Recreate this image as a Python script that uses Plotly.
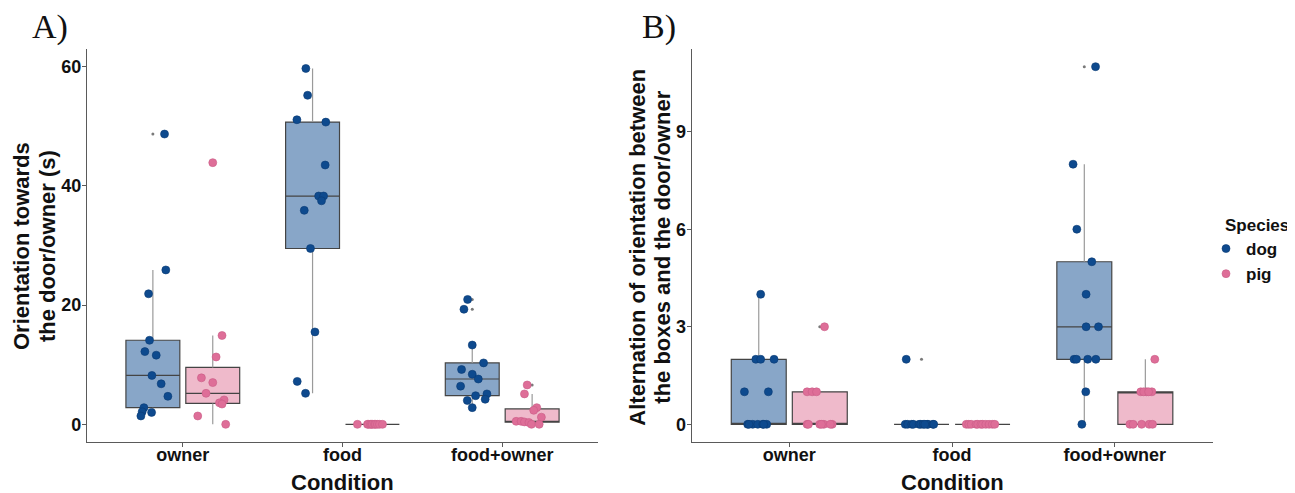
import numpy as np
import plotly.graph_objects as go

# The page body has an 8px default margin: the figure is laid out in
# screen pixels and converted to figure coordinates below.
OX, OY = 8, 8
W, H = 1287, 485

conditions = ["owner", "food", "food+owner"]
species = ["dog", "pig"]

# ---- Panel A: Orientation towards the door/owner (s) ----
A_dog_owner = [48.7, 25.9, 21.9, 14.1, 12.2, 11.6, 8.2, 6.8, 4.7, 2.8, 2.1, 1.4, 2.0]
A_dog_owner_jit = [0.073, 0.081, -0.027, -0.021, -0.05, 0.021, -0.006, 0.052, 0.094, -0.056, -0.067, -0.075, -0.008]
A_pig_owner = [43.9, 14.9, 11.3, 7.8, 7.0, 5.2, 4.1, 3.6, 3.4, 1.4, 0.0]
A_pig_owner_jit = [0.0, 0.058, 0.021, -0.071, 0.0, -0.042, 0.071, 0.042, 0.058, -0.094, 0.081]
A_dog_food = [59.7, 55.2, 51.1, 50.7, 43.5, 38.3, 38.3, 37.5, 35.9, 29.5, 15.5, 7.2, 5.2]
A_dog_food_jit = [-0.042, -0.031, -0.098, 0.083, 0.079, 0.038, 0.069, 0.056, -0.052, -0.013, 0.015, -0.096, -0.044]
A_pig_food = [0, 0, 0, 0, 0, 0, 0, 0, 0, 0, 0]
A_pig_food_jit = [-0.094, -0.031, -0.025, -0.013, -0.006, 0.0, 0.013, 0.019, 0.031, 0.044, 0.063]
A_dog_fo = [20.95, 19.3, 13.3, 10.3, 9.2, 8.4, 7.6, 6.4, 4.8, 5.1, 4.2, 4.0, 2.8]
A_dog_fo_jit = [-0.029, -0.052, 0.0, 0.071, -0.067, 0.0, 0.038, -0.073, 0.021, 0.092, 0.081, -0.031, 0.0]
A_pig_fo = [6.6, 5.1, 2.8, 2.35, 1.2, 0.5, 0.5, 0.4, 0.3, 0.0, 0.0]
A_pig_fo_jit = [-0.031, -0.048, 0.029, 0.010, 0.058, -0.1, -0.069, -0.048, -0.02, -0.004, 0.044]

# ---- Panel B: Alternation of orientation ----
B_dog_owner = [4, 2, 2, 2, 1, 1, 0, 0, 0, 0, 0, 0, 0]
B_dog_owner_jit = [0.012, -0.018, 0.012, 0.094, -0.088, 0.059, -0.068, -0.037, -0.006, 0.025, 0.049, -0.06, 0.03]
B_pig_owner = [3, 1, 1, 1, 0, 0, 0, 0, 0, 0, 0]
B_pig_owner_jit = [0.029, -0.078, -0.047, -0.02, -0.078, 0.0, 0.025, 0.076, -0.07, 0.01, 0.065]
B_dog_food = [2, 0, 0, 0, 0, 0, 0, 0, 0, 0, 0, 0, 0]
B_dog_food_jit = [-0.094, -0.1, -0.085, -0.06, -0.05, -0.015, -0.005, 0.01, 0.035, 0.04, 0.07, 0.075, 0.02]
B_pig_food = [0, 0, 0, 0, 0, 0, 0, 0, 0, 0, 0]
B_pig_food_jit = [-0.1, -0.085, -0.07, -0.04, -0.03, -0.01, 0.0, 0.02, 0.04, 0.06, 0.075]
B_dog_fo = [11, 8, 6, 5, 4, 3, 3, 2, 2, 2, 2, 1, 0]
B_dog_fo_jit = [0.069, -0.069, -0.046, 0.046, 0.011, 0.011, 0.087, -0.063, -0.048, 0.021, 0.071, 0.009, -0.015]
B_pig_fo = [2, 1, 1, 1, 1, 1, 0, 0, 0, 0, 0]
B_pig_fo_jit = [0.058, -0.028, 0.007, 0.04, -0.01, 0.02, -0.095, -0.075, -0.023, 0.023, 0.044]

panelA = {
    "dog": [(A_dog_owner, A_dog_owner_jit), (A_dog_food, A_dog_food_jit), (A_dog_fo, A_dog_fo_jit)],
    "pig": [(A_pig_owner, A_pig_owner_jit), (A_pig_food, A_pig_food_jit), (A_pig_fo, A_pig_fo_jit)],
}
panelB = {
    "dog": [(B_dog_owner, B_dog_owner_jit), (B_dog_food, B_dog_food_jit), (B_dog_fo, B_dog_fo_jit)],
    "pig": [(B_pig_owner, B_pig_owner_jit), (B_pig_food, B_pig_food_jit), (B_pig_fo, B_pig_fo_jit)],
}

box_fill = {"dog": "#88A6C8", "pig": "#EFBACB"}
pt_color = {"dog": "#0E4A8E", "pig": "#DE6E98"}
pt_line = {"dog": "#0A3A74", "pig": "#C95C86"}
dodge = {"dog": -0.1875, "pig": 0.1875}
BOXW = 0.3375

FONT = "Liberation Sans, Arial, sans-serif"


def px(x):
    return (x - OX) / W


def py(y):
    return (H - (y - OY)) / H


def stats(v):
    v = np.asarray(v, float)
    q1, med, q3 = np.percentile(v, [25, 50, 75])
    iqr = q3 - q1
    lo_f, hi_f = q1 - 1.5 * iqr, q3 + 1.5 * iqr
    inside = v[(v >= lo_f) & (v <= hi_f)]
    out = v[(v < lo_f) | (v > hi_f)]
    return q1, med, q3, inside.min(), inside.max(), out


fig = go.Figure()


def add_panel(panel, xa, ya, show_legend):
    for sp in species:
        for ci, (vals, jit) in enumerate(panel[sp]):
            pos = ci + 1 + dodge[sp]
            q1, med, q3, lo, hi, out = stats(vals)
            fig.add_trace(go.Scatter(
                x=[pos, pos, None, pos, pos], y=[q3, hi, None, q1, lo],
                mode="lines", line=dict(color="#9A9A9A", width=1.2),
                xaxis=xa, yaxis=ya, showlegend=False, hoverinfo="skip"))
            fig.add_trace(go.Box(
                x=[pos], q1=[q1], median=[med], q3=[q3],
                lowerfence=[q1], upperfence=[q3],
                width=BOXW, fillcolor=box_fill[sp],
                line=dict(color="#444444", width=1.2), whiskerwidth=0,
                boxpoints=False, xaxis=xa, yaxis=ya, showlegend=False))
            if len(out):
                fig.add_trace(go.Scatter(
                    x=[pos] * len(out), y=list(out), mode="markers",
                    marker=dict(color="#7A7A7A", size=3),
                    xaxis=xa, yaxis=ya, showlegend=False, hoverinfo="skip"))
    for sp in species:
        xs, ys = [], []
        for ci, (vals, jit) in enumerate(panel[sp]):
            pos = ci + 1 + dodge[sp]
            xs += [pos + j for j in jit]
            ys += list(vals)
        fig.add_trace(go.Scatter(
            x=xs, y=ys, mode="markers", name=sp,
            marker=dict(color=pt_color[sp], size=8, line=dict(color=pt_line[sp], width=0.6)),
            xaxis=xa, yaxis=ya, showlegend=show_legend, legendgroup=sp))


add_panel(panelA, "x", "y", True)
add_panel(panelB, "x2", "y2", False)

ydom = [py(442.2), py(48.8)]
axis_common = dict(showline=True, linecolor="#5A5A5A", linewidth=1.2, ticks="outside",
                   ticklen=4, tickcolor="#5A5A5A", showgrid=False, zeroline=False,
                   tickfont=dict(family=FONT, size=18, color="#111111", weight="bold"))
xaxis_extra = dict(ticklabelstandoff=-8)
yaxis_extra = dict(ticklabelstandoff=-3)

fig.update_layout(
    width=W, height=H, margin=dict(l=0, r=0, t=0, b=0),
    plot_bgcolor="white", paper_bgcolor="white",
    xaxis=dict(domain=[px(87), px(598)], range=[0.4, 3.6], tickvals=[1, 2, 3],
               ticktext=conditions, anchor="y", **axis_common, **xaxis_extra),
    yaxis=dict(domain=ydom, range=[-3, 63], tickvals=[0, 20, 40, 60], anchor="x",
               **axis_common, **yaxis_extra),
    xaxis2=dict(domain=[px(691.6), px(1212.5)], range=[0.4, 3.6], tickvals=[1, 2, 3],
                ticktext=conditions, anchor="y2", **axis_common, **xaxis_extra),
    yaxis2=dict(domain=ydom, range=[-0.55, 11.55], tickvals=[0, 3, 6, 9], anchor="x2",
                **axis_common, **yaxis_extra),
    showlegend=True,
    legend=dict(x=px(1206), y=py(231), xanchor="left", yanchor="top",
                font=dict(family=FONT, size=17, color="#111111", weight="bold"),
                itemwidth=30, tracegroupgap=0, bgcolor="rgba(0,0,0,0)"),
)

ann = []


def txt(x, y, s, size, angle=0, family=FONT, weight="bold", xanchor="center"):
    ann.append(dict(x=px(x), y=py(y), xref="paper", yref="paper", text=s,
                    showarrow=False, textangle=angle, xanchor=xanchor, yanchor="middle",
                    font=dict(family=family, size=size, color="#111111", weight=weight)))


txt(342.5, 482, "Condition", 22)
txt(952, 482, "Condition", 22)
txt(21, 246, "Orientation towards", 22, -90)
txt(47, 246, "the door/owner (s)", 22, -90)
txt(636.7, 247, "Alternation of orientation between", 22, -90)
txt(661.7, 247, "the boxes and the door/owner", 22, -90)
txt(1223, 226, "Species", 17, xanchor="left")
txt(50, 27, "A)", 34, family="Liberation Serif, Times New Roman, serif", weight="normal")
txt(659, 27, "B)", 34, family="Liberation Serif, Times New Roman, serif", weight="normal")
fig.update_layout(annotations=ann)

fig.write_html("out.html")
